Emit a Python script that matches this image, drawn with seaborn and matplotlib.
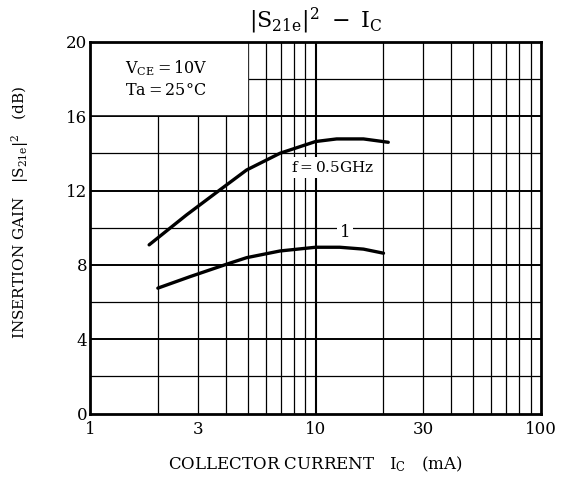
import numpy as np
import pandas as pd
import seaborn as sns
import matplotlib.pyplot as plt

# curves
ic_05 = [1.83, 2.68, 3.77, 4.95, 6.96, 10.0, 12.4, 16.3, 21.0]
gain_05 = [9.08, 10.69, 12.04, 13.11, 14.01, 14.64, 14.78, 14.78, 14.6]
ic_1 = [2.0, 2.78, 4.04, 4.95, 6.96, 10.0, 12.8, 16.3, 20.0]
gain_1 = [6.75, 7.37, 8.04, 8.39, 8.75, 8.95, 8.95, 8.85, 8.63]

x_ticks = [1, 3, 10, 30, 100]
y_ticks = [0, 4, 8, 12, 16, 20]

df = pd.concat([
    pd.DataFrame({'ic': ic_05, 'gain': gain_05, 'f': '0.5GHz'}),
    pd.DataFrame({'ic': ic_1, 'gain': gain_1, 'f': '1GHz'}),
])

sns.set_style('white')
plt.rcParams['font.family'] = ['DejaVu Serif']
plt.rcParams['mathtext.fontset'] = 'dejavuserif'
plt.rcParams['text.color'] = 'black'
plt.rcParams['axes.labelcolor'] = 'black'
plt.rcParams['xtick.color'] = 'black'
plt.rcParams['ytick.color'] = 'black'

fig = plt.figure(figsize=(5.62, 4.82), dpi=100)
ax = fig.add_axes([0.160, 0.142, 0.803, 0.771])

ax.set_xscale('log')
ax.set_xlim(1, 100)
ax.set_ylim(0, 20)

# grid
for v in [2, 3, 4, 5, 6, 7, 8, 9, 20, 30, 40, 50, 60, 70, 80, 90]:
    ax.axvline(v, color='black', lw=0.9, zorder=1)
ax.axvline(10, color='black', lw=1.5, zorder=1)
for h in [4, 8, 12, 16]:
    ax.axhline(h, color='black', lw=1.4, zorder=1)
for h in [2, 6, 10, 14, 18]:
    ax.axhline(h, color='black', lw=0.9, zorder=1)

sns.lineplot(data=df, x='ic', y='gain', units='f', estimator=None,
             color='black', lw=2.4, ax=ax, zorder=5, legend=False)

ax.set_xticks(x_ticks)
ax.set_xticklabels([str(t) for t in x_ticks])
ax.xaxis.set_minor_locator(plt.NullLocator())
ax.set_yticks(y_ticks)
ax.tick_params(length=0, labelsize=12, pad=2)
ax.tick_params(axis='x', pad=5)
for s in ax.spines.values():
    s.set_linewidth(2)
    s.set_color('black')
    s.set_zorder(10)

box = dict(facecolor='white', edgecolor='none', pad=2)
ax.fill_between([1.01, 4.97], 16.1, 19.95, color='white', zorder=2)
ax.text(1.43, 18.6, r'V$_{\rm CE}$$=$10V', fontsize=11.5, va='center', zorder=6)
ax.text(1.43, 17.4, 'Ta$=$25°C', fontsize=11.5, va='center', zorder=6)
ax.text(7.8, 13.25, 'f$=$0.5GHz', fontsize=11, va='center', zorder=6, bbox=box)
ax.text(13.5, 9.75, '1', fontsize=12, ha='center', va='center', zorder=6, bbox=box)

ax.set_title(r'$|\mathrm{S_{21e}}|^2\ -\ \mathrm{I_C}$', fontsize=16, pad=10)
ax.set_xlabel(r'COLLECTOR CURRENT   I$_{\rm C}$   (mA)', fontsize=12, labelpad=12)
ax.set_ylabel(r'INSERTION GAIN   $|\mathrm{S_{21e}}|^2$   (dB)', fontsize=11, va='center')
ax.yaxis.set_label_coords(-0.155, 0.54)

fig.savefig('out.png', dpi=100)
